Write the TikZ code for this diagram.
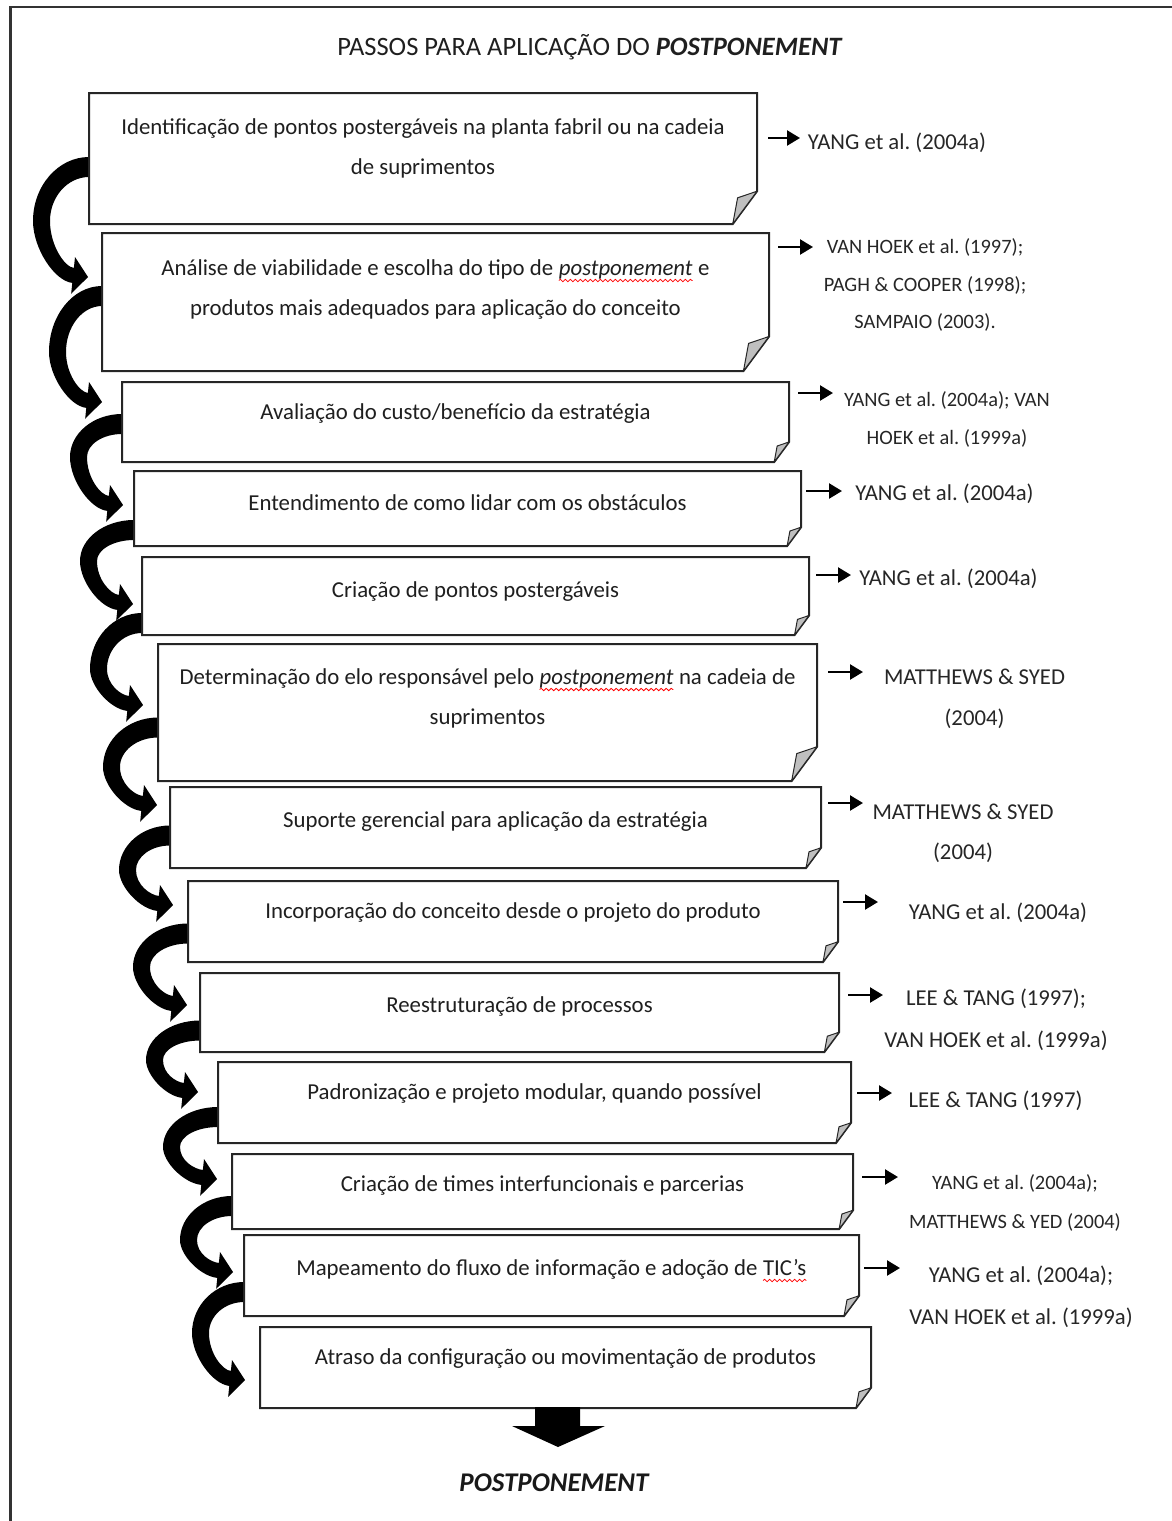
\documentclass[tikz,border=0pt]{standalone}
\usepackage{fontspec}
\setmainfont{Carlito}
\usetikzlibrary{calc,arrows.meta,decorations.pathmorphing}
\frenchspacing

% red wavy underline as left by a spell checker
\newcommand\spellmark[1]{\tikz[baseline=(sw.base), x=1pt, y=1pt]{%
  \node[inner sep=0pt, outer sep=0pt, anchor=base] (sw) at (0,0) {#1};
  \draw[red, line width=0.8pt, decorate, decoration={snake, amplitude=1.2pt, segment length=5pt}]
    ($(sw.base west)+(0,-5)$) -- ($(sw.base east)+(0,-5)$);}}
% centred multi-line text whose baseline is the first line
\newcommand\stack[1]{\begin{tabular}[t]{@{}c@{}}#1\end{tabular}}

% step box with a folded bottom-right corner: name, left, top, right, bottom
\newcommand\mkbox[5]{%
  \pgfmathsetmacro\mkW{#4-#2}%
  \pgfmathsetmacro\mkH{#5-#3}%
  \pgfmathsetmacro\mkX{(#2+#4)/2}%
  \pgfmathsetmacro\mkY{(#3+#5)/2}%
  \pgfmathsetmacro\mkFv{0.25*\mkH}%
  \pgfmathsetmacro\mkFh{0.185*\mkH}%
  \node[minimum width=\mkW pt, minimum height=\mkH pt, inner sep=0pt, outer sep=0pt] (#1) at (\mkX,\mkY) {};
  \draw[boxline] (#1.north west) -- (#1.north east) -- ($(#1.south east)+(0,-\mkFv)$)
     -- ($(#1.south east)+(-\mkFh,0)$) -- (#1.south west) -- cycle;
  \filldraw[flap] ($(#1.south east)+(-\mkFh,0)$) -- ($(#1.south east)+(-0.8*\mkFh,-0.8*\mkFv)$)
     -- ($(#1.south east)+(0,-\mkFv)$) -- cycle;
}

% thick curved arrow on the left: start x, start y, leftmost x, leftmost y, tip x, tip y
\newcommand\turnarrow[6]{%
  \pgfmathsetmacro\taBx{#5-15*cos(6)}%
  \pgfmathsetmacro\taBy{#6-15*sin(6)}%
  \pgfmathsetmacro\taOa{#1-0.55*(#1-#3)}%
  \pgfmathsetmacro\taOb{#4-0.55*(#4-#2+10)}%
  \pgfmathsetmacro\taOc{#4+0.5*(\taBy-#4)}%
  \pgfmathsetmacro\taK{0.45*(\taBx-#3)}%
  \pgfmathsetmacro\taIx{#3+17}%
  \pgfmathsetmacro\taIc{#4+0.45*(\taBy-#4)}%
  \pgfmathsetmacro\taIb{#4-0.55*(#4-#2-10)}%
  \pgfmathsetmacro\taIa{#1-0.55*(#1-#3-17)}%
  \pgfmathsetmacro\taKi{0.4*(\taBx-#3-17)}%
  \pgfmathsetmacro\taYt{#2-10}%
  \pgfmathsetmacro\taYb{#2+10}%
  \coordinate (taT) at (#5,#6);
  \coordinate (taB) at (\taBx,\taBy);
  \coordinate (taBo) at ($(taB)+(96:7.5)$);
  \coordinate (taBi) at ($(taB)+(-84:7.5)$);
  \fill[turnfill] (#1,\taYt) .. controls (\taOa,\taYt) and (#3,\taOb) .. (#3,#4)
     .. controls (#3,\taOc) and ($(taBo)+(186:\taK)$) .. (taBo)
     -- ($(taB)+(96:18.5)$) -- (taT) -- ($(taB)+(-84:18.5)$) -- (taBi)
     .. controls ($(taBi)+(186:\taKi)$) and (\taIx,\taIc) .. (\taIx,#4)
     .. controls (\taIx,\taIb) and (\taIa,\taYb) .. (#1,\taYb) -- cycle;
}

\begin{document}
\begin{tikzpicture}[x=1pt,y=-1pt,
  boxline/.style={draw=black!85, fill=white, line width=2pt, line join=miter},
  flap/.style={fill=black!25, draw=black!85, line width=1pt, line join=round},
  turnfill/.style={fill=black},
  boxtext/.style={inner sep=0pt, anchor=base, text=black!88, font=\fontsize{22.8}{39.5}\selectfont},
  citetext/.style={inner sep=0pt, anchor=base, text=black!85, font=\fontsize{22.7}{40}\selectfont},
  citesmall/.style={inner sep=0pt, anchor=base, text=black!85, font=\fontsize{20.4}{37.5}\selectfont},
  citearrow/.style={draw=black, line width=2.4pt, -{Triangle[length=13pt,width=15pt]}},
]
\useasboundingbox (0,0) rectangle (1172,1521);
\clip (0,0) rectangle (1172,1521);

% page frame
\draw[line width=2.5pt, draw=black!80] (10.5,7) rectangle (1190,1545);

% title
\node[inner sep=0pt, anchor=base, text=black!88, font=\fontsize{26.5}{30}\selectfont] (title) at (590,55.5)
  {PASSOS PARA APLICAÇÃO DO \textbf{\textit{POSTPONEMENT}}};

% curved arrows linking consecutive steps
\turnarrow{89}{167}{33}{221}{88}{277}
\turnarrow{102}{296}{49}{352}{102}{402}
\turnarrow{122}{424}{70}{457}{123}{505}
\turnarrow{134}{530}{80}{561}{133}{604}
\turnarrow{142}{623}{90}{669}{143}{705}
\turnarrow{158}{727.5}{103}{767}{157}{805}
\turnarrow{170}{835.5}{119}{870}{173}{905}
\turnarrow{188}{933.5}{133}{967}{187}{1005}
\turnarrow{200}{1030.5}{146}{1060}{198}{1092}
\turnarrow{218}{1117}{163}{1147}{217}{1179}
\turnarrow{232}{1206}{180}{1240}{233}{1272}
\turnarrow{244}{1292}{192}{1333}{245}{1380}

% step boxes
\mkbox{b1}{89}{93}{757}{224}
\mkbox{b2}{102}{233}{769}{371}
\mkbox{b3}{122}{382}{789}{462}
\mkbox{b4}{134}{471}{801}{546}
\mkbox{b5}{142}{557}{809}{635}
\mkbox{b6}{158}{644}{817}{781}
\mkbox{b7}{170}{787}{821}{868}
\mkbox{b8}{188}{881}{838}{962}
\mkbox{b9}{200}{973}{839}{1052}
\mkbox{b10}{218}{1062}{851}{1143}
\mkbox{b11}{232}{1154}{853}{1229}
\mkbox{b12}{244}{1235}{859}{1316}
\mkbox{b13}{260}{1327}{871}{1408}

% step texts
\node[boxtext] (t1) at (423,134.5) {\stack{Identificação de pontos postergáveis na planta fabril ou na cadeia\\de suprimentos}};
\node[boxtext] (t2) at (435.5,275.5) {\stack{Análise de viabilidade e escolha do tipo de \spellmark{\textit{postponement}} e\\produtos mais adequados para aplicação do conceito}};
\node[boxtext] (t3) at (455.5,419.5) {Avaliação do custo/benefício da estratégia};
\node[boxtext] (t4) at (467.5,510.5) {Entendimento de como lidar com os obstáculos};
\node[boxtext] (t5) at (475.5,597.5) {Criação de pontos postergáveis};
\node[boxtext] (t6) at (487.5,684.5) {\stack{Determinação do elo responsável pelo \spellmark{\textit{postponement}} na cadeia de\\suprimentos}};
\node[boxtext] (t7) at (495.5,827.5) {Suporte gerencial para aplicação da estratégia};
\node[boxtext] (t8) at (513,918.5) {Incorporação do conceito desde o projeto do produto};
\node[boxtext] (t9) at (519.5,1012.5) {Reestruturação de processos};
\node[boxtext] (t10) at (534.5,1099.5) {Padronização e projeto modular, quando possível};
\node[boxtext] (t11) at (542.5,1191.5) {Criação de times interfuncionais e parcerias};
\node[boxtext] (t12) at (551.5,1275.5) {Mapeamento do fluxo de informação e adoção de \spellmark{TIC’s}};
\node[boxtext] (t13) at (565.5,1364.5) {Atraso da configuração ou movimentação de produtos};

% references
\node[citetext] (c1) at (897,149.3) {YANG et al. (2004a)};
\node[citesmall] (c2) at (925,253.6) {\stack{VAN HOEK et al. (1997);\\PAGH \& COOPER (1998);\\SAMPAIO (2003).}};
\node[citesmall] (c3) at (947,406.6) {\stack{YANG et al. (2004a); VAN\\HOEK et al. (1999a)}};
\node[citetext] (c4) at (944.5,500.3) {YANG et al. (2004a)};
\node[citetext] (c5) at (948.5,585.3) {YANG et al. (2004a)};
\node[citetext, font=\fontsize{22.7}{41}\selectfont] (c6) at (974.5,684.3) {\stack{MATTHEWS \& SYED\\(2004)}};
\node[citetext] (c7) at (963,819.3) {\stack{MATTHEWS \& SYED\\(2004)}};
\node[citetext] (c8) at (998,919.3) {YANG et al. (2004a)};
\node[citetext, font=\fontsize{22.7}{42}\selectfont] (c9) at (996,1005.3) {\stack{LEE \& TANG (1997);\\VAN HOEK et al. (1999a)}};
\node[citetext] (c10) at (995.5,1107.3) {LEE \& TANG (1997)};
\node[citesmall, font=\fontsize{20.4}{39}\selectfont] (c11) at (1015,1189.6) {\stack{YANG et al. (2004a);\\MATTHEWS \& YED (2004)}};
\node[citetext, font=\fontsize{22.7}{42}\selectfont] (c12) at (1021,1282.3) {\stack{YANG et al. (2004a);\\VAN HOEK et al. (1999a)}};

% small arrows from the steps to their references
\coordinate (s1) at (768,138);   \coordinate (e1) at (800,138);
\coordinate (s2) at (778,247);   \coordinate (e2) at (813,247);
\coordinate (s3) at (798,393);   \coordinate (e3) at (833,393);
\coordinate (s4) at (806,491);   \coordinate (e4) at (842,491);
\coordinate (s5) at (816,575);   \coordinate (e5) at (851,575);
\coordinate (s6) at (828,672);   \coordinate (e6) at (863,672);
\coordinate (s7) at (828,803);   \coordinate (e7) at (863,803);
\coordinate (s8) at (843,902);   \coordinate (e8) at (878,902);
\coordinate (s9) at (848,995);   \coordinate (e9) at (883,995);
\coordinate (s10) at (857,1093); \coordinate (e10) at (892,1093);
\coordinate (s11) at (862,1177); \coordinate (e11) at (898,1177);
\coordinate (s12) at (864,1268); \coordinate (e12) at (900,1268);
\foreach \i in {1,...,12} {\draw[citearrow] (s\i) -- (e\i);}

% final block arrow and result
\fill[black] (535,1407) -- (580,1407) -- (580,1426) -- (605,1426) -- (558,1447)
   -- (512,1426) -- (535,1426) -- cycle;
\node[inner sep=0pt, anchor=base, text=black!90, font=\fontsize{27}{30}\selectfont\bfseries\itshape] (result) at (554,1491.7) {POSTPONEMENT};
\end{tikzpicture}
\end{document}
